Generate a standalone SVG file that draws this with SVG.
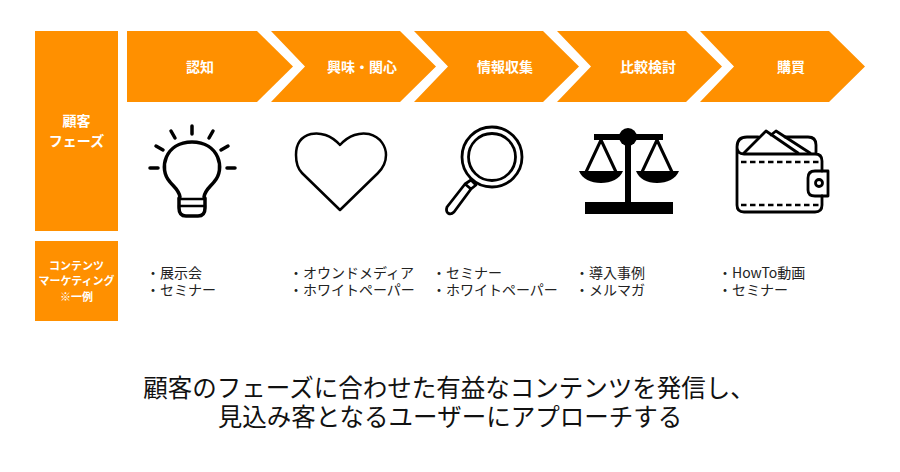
<svg xmlns="http://www.w3.org/2000/svg" width="900" height="472" viewBox="0 0 900 472">
<style>
text{font-family:"Noto Sans CJK JP","Noto Sans",sans-serif}
.o{fill:#ff9000}
.h{fill:#fff;font-size:14px;font-weight:700;text-anchor:middle}
.s{fill:#fff;font-size:11px;font-weight:700;text-anchor:middle}
.l{fill:#222;font-size:14px}
.c{fill:#111;font-size:24.500px;text-anchor:middle}
.i{fill:none;stroke:#000;stroke-width:3;stroke-linecap:round;stroke-linejoin:round}
.f{fill:#000;stroke:none}
</style>
<rect width="900" height="472" fill="#fff"/>
<g id="phase-header"><rect class="o" x="35" y="31" width="83" height="200"/><text class="h"><tspan x="76.500" y="126">顧客</tspan><tspan x="76.500" y="146">フェーズ</tspan></text></g>
<g id="content-header"><rect class="o" x="35" y="241" width="83" height="80"/><text class="s"><tspan x="76.500" y="270">コンテンツ</tspan><tspan x="76.500" y="285">マーケティング</tspan><tspan x="76.500" y="301">※一例</tspan></text></g>
<g id="step1"><path class="o" d="M127 31H257L293 66.500L257 102H127Z"/><text class="h" x="200" y="72">認知</text></g>
<g id="step2"><path class="o" d="M271 31H400L436 66.500L400 102H271L305 66.500Z"/><text class="h" x="362" y="72">興味・関心</text></g>
<g id="step3"><path class="o" d="M414 31H543L579 66.500L543 102H414L448 66.500Z"/><text class="h" x="505" y="72">情報収集</text></g>
<g id="step4"><path class="o" d="M557 31H686L722 66.500L686 102H557L591 66.500Z"/><text class="h" x="648" y="72">比較検討</text></g>
<g id="step5"><path class="o" d="M700 31H829L865 66.500L829 102H700L734 66.500Z"/><text class="h" x="791" y="72">購買</text></g>
<g id="icon-bulb" class="i" style="stroke-width:3.500">
<path d="M180 197C179 190 174 187 170 182C158 169 165 142 192 142C219 142 226 169 214 182C210 187 205 190 204 197"/>
<path d="M179 199H205" stroke-width="2.500"/><path d="M179 206H205" stroke-width="2.500"/><path d="M179 198V208Q179 216 186 216H198Q205 216 205 208V198"/>
<path d="M150 168H158M227 168H235M156 146L163 150M228 146L221 150M171 131L175 138M213 131L209 138M192 126V134"/>
</g>
<g id="icon-heart" class="i" style="stroke-width:2.500"><path d="M340 145C331 135 320 132 311 134C299 137 296 147 296 155C296 163 298 169 302 173L340 210L378 173C382 169 386 163 386 155C386 147 381 137 369 134C360 132 349 135 340 145Z"/></g>
<g id="icon-magnifier" class="i" style="stroke-width:2.800">
<circle cx="492" cy="157" r="30"/><circle cx="492" cy="157" r="23.500"/>
<path d="M471 180L476 185L471 189L465 184ZM465 184L471 189L454 212C450 216 445 213 447 207Z"/>
</g>
<g id="icon-scales">
<rect class="f" x="594" y="134" width="69" height="6"/><circle class="f" cx="628" cy="137" r="9"/><rect class="f" x="625" y="140" width="6" height="63"/><rect class="f" x="585" y="202" width="88" height="12"/>
<path d="M601 140L586 172M601 140L616 172M657 140L642 172M657 140L672 172" fill="none" stroke="#000" stroke-width="3"/>
<path class="f" d="M579 171H623C620 179 611 183 601 183C591 183 582 179 579 171ZM636 171H679C676 179 667 183 657 183C647 183 639 179 636 171Z"/>
</g>
<g id="icon-wallet" class="i" style="stroke-width:2.800">
<path d="M737 147Q737 154 744 154H815Q822 154 822 161V171M822 196V205Q822 212 815 212H744Q737 212 737 205V147Q737 137 747 137H758M785 137H808Q816 137 816 145V153"/>
<path d="M744 153L766 131L798 153M771 135L776 131L810 153"/>
<path d="M741 162H819M741 205H819" stroke-width="2.500" stroke-dasharray="5.500 3.500" stroke-linecap="butt"/>
<path d="M828 171H815Q808 171 808 178V190Q808 196 815 196H828Z"/>
<circle cx="819" cy="183" r="3.500"/>
</g>
<g id="list1"><text class="l"><tspan x="146" y="278">・展示会</tspan><tspan x="146" y="294.500">・セミナー</tspan></text></g>
<g id="list2"><text class="l"><tspan x="289" y="278">・オウンドメディア</tspan><tspan x="289" y="294.500">・ホワイトペーパー</tspan></text></g>
<g id="list3"><text class="l"><tspan x="432" y="278">・セミナー</tspan><tspan x="432" y="294.500">・ホワイトペーパー</tspan></text></g>
<g id="list4"><text class="l"><tspan x="575" y="278">・導入事例</tspan><tspan x="575" y="294.500">・メルマガ</tspan></text></g>
<g id="list5"><text class="l"><tspan x="718" y="278">・HowTo動画</tspan><tspan x="718" y="294.500">・セミナー</tspan></text></g>
<g id="caption"><text class="c"><tspan x="449" y="397">顧客のフェーズに合わせた有益なコンテンツを発信し、</tspan><tspan x="450" y="425.500">見込み客となるユーザーにアプローチする</tspan></text></g>
</svg>
